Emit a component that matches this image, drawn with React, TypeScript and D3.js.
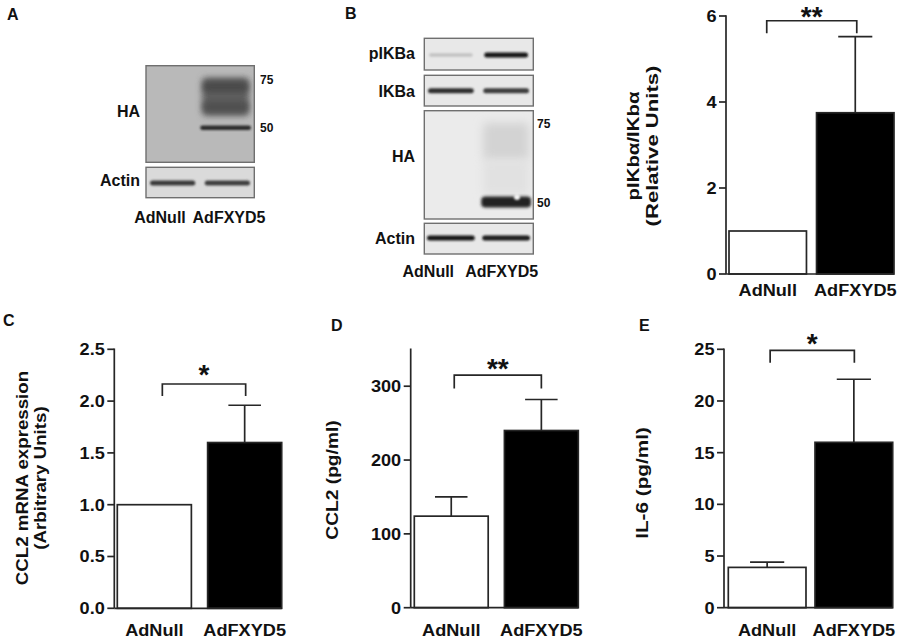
import React from "react";
import * as d3 from "d3";

// ---------- data ----------
const categories = ["AdNull", "AdFXYD5"];
const barFills = ["#ffffff", "#000000"];

const pIkbMean = [1.0, 3.75];
const pIkbSem = [0, 1.77];
const pIkbTicks = [0, 2, 4, 6];
const pIkbBracket = [5.89, 5.6];
const pIkbStars = "**";

const ccl2MrnaMean = [1.0, 1.6];
const ccl2MrnaSem = [0, 0.36];
const ccl2MrnaTicks = [0, 0.5, 1.0, 1.5, 2.0, 2.5];
const ccl2MrnaBracket = [2.165, 2.05];
const ccl2MrnaStars = "*";

const ccl2ProtMean = [124, 240];
const ccl2ProtSem = [26, 42];
const ccl2ProtTicks = [0, 100, 200, 300];
const ccl2ProtBracket = [315, 297];
const ccl2ProtStars = "**";

const il6Mean = [3.9, 16.0];
const il6Sem = [0.5, 6.1];
const il6Ticks = [0, 5, 10, 15, 20, 25];
const il6Bracket = [24.9, 23.7];
const il6Stars = "*";

// blot band descriptors: lane, y (relative to box top), height, tone, blur
const blotA_HA = [
  { lane: 1, y: 31, h: 38, color: "#606060", blur: 3, inset: 1 },
  { lane: 1, y: 21, h: 11, color: "#4a4a4a", blur: 3, inset: 2 },
  { lane: 1, y: 41, h: 11, color: "#505050", blur: 3, inset: 2 },
  { lane: 1, y: 62, h: 4.5, color: "#2c2c2c", blur: 1, inset: -1 },
];
const blotA_Actin = [
  { lane: 0, y: 15.7, h: 5, color: "#3a3a3a", blur: 1, inset: 2 },
  { lane: 1, y: 15.7, h: 5, color: "#404040", blur: 1, inset: 2 },
];
const blotB_pIKBa = [
  { lane: 0, y: 16.7, h: 3.5, color: "#c2c2c2", blur: 1, inset: 3 },
  { lane: 1, y: 16.7, h: 5, color: "#151515", blur: 1, inset: 3 },
];
const blotB_IKBa = [
  { lane: 0, y: 15.4, h: 5, color: "#2e2e2e", blur: 1, inset: 2 },
  { lane: 1, y: 15.4, h: 5, color: "#3c3c3c", blur: 1, inset: 2 },
];
const blotB_HA = [
  { lane: 1, y: 31, h: 38, color: "#d3d3d3", blur: 4, inset: 2 },
  { lane: 1, y: 67, h: 35, color: "#e1e1e1", blur: 4, inset: 2 },
  { lane: 1, y: 91.3, h: 11, color: "#202020", blur: 2, inset: 0 },
];
const blotB_Actin = [
  { lane: 0, y: 14.7, h: 5, color: "#151515", blur: 1, inset: 1 },
  { lane: 1, y: 14.7, h: 5, color: "#1c1c1c", blur: 1, inset: 1 },
];

// ---------- helpers ----------
const FONT = "'Liberation Sans', Arial, Helvetica, sans-serif";
const INK = "#111";
const LINE = "#262626";

function T({ x, y, size = 16.5, sx = 1.1, anchor = "middle", rot = false, children }: any) {
  return (
    <text
      transform={`translate(${x},${y})${rot ? " rotate(-90)" : ""} scale(${sx},1)`}
      fontSize={size}
      fontWeight="bold"
      fontFamily={FONT}
      textAnchor={anchor}
      fill={INK}
    >
      {children}
    </text>
  );
}

function BarPanel(p: any) {
  const y = d3.scaleLinear().domain(p.domain).range([p.yBottom, p.yTop]);
  const x = d3.scaleBand().domain(categories).range(p.barRange).paddingInner(p.pad).paddingOuter(0);
  const bw = x.bandwidth();
  const cx = (c: string) => (x(c) as number) + bw / 2;
  const tickLen = 7;
  const capW = bw * 0.44;
  const bx0 = cx(categories[0]) + p.bracketDx[0];
  const bx1 = cx(categories[1]) + p.bracketDx[1];
  const by = y(p.bracket[0]);
  const byLeg = y(p.bracket[1]);
  const sw = 1.7;
  return (
    <g>
      {categories.map((c, i) => (
        <rect
          key={c}
          x={x(c)}
          y={y(p.means[i])}
          width={bw}
          height={y(0) - y(p.means[i])}
          fill={barFills[i]}
          stroke={LINE}
          strokeWidth={sw}
        />
      ))}
      {categories.map((c, i) =>
        p.sems[i] > 0 ? (
          <g key={c} stroke={LINE} strokeWidth={sw}>
            <line x1={cx(c)} x2={cx(c)} y1={y(p.means[i])} y2={y(p.means[i] + p.sems[i])} />
            <line
              x1={cx(c) - capW / 2}
              x2={cx(c) + capW / 2}
              y1={y(p.means[i] + p.sems[i])}
              y2={y(p.means[i] + p.sems[i])}
            />
          </g>
        ) : null
      )}
      <g stroke={LINE} strokeWidth={sw}>
        <line x1={p.axisX} x2={p.axisX} y1={y(p.domain[1]) - 0.8} y2={y(0)} />
        <line x1={p.axisX} x2={p.barRange[1]} y1={y(0)} y2={y(0)} />
        {p.ticks.map((t: number) => (
          <line key={t} x1={p.axisX - tickLen} x2={p.axisX} y1={y(t)} y2={y(t)} />
        ))}
      </g>
      {p.ticks.map((t: number) => (
        <T key={t} x={p.axisX - tickLen - 2.5} y={y(t) + 5.9} anchor="end">
          {p.fmt(t)}
        </T>
      ))}
      {categories.map((c) => (
        <T key={c} x={cx(c)} y={p.xLabelY}>
          {c}
        </T>
      ))}
      <path
        d={`M${bx0},${byLeg}V${by}H${bx1}V${byLeg}`}
        fill="none"
        stroke={LINE}
        strokeWidth={sw}
      />
      <text
        x={(bx0 + bx1) / 2}
        y={by - p.starGap + 15.5}
        fontSize={28}
        fontWeight="bold"
        fontFamily={FONT}
        textAnchor="middle"
        fill={INK}
      >
        {p.stars}
      </text>
      {p.yLabel.map((s: string, k: number) => (
        <T key={k} rot x={p.yLabelX[k]} y={p.yLabelY} size={17} sx={p.yLabelSx[k]}>
          {s}
        </T>
      ))}
    </g>
  );
}

function Blot({ id, x, y, w, h, bg, bands, lanes }: any) {
  const lx = d3.scaleBand().domain(categories).range(lanes).paddingInner(0.1);
  return (
    <g>
      <clipPath id={id}>
        <rect x={x} y={y} width={w} height={h} />
      </clipPath>
      <rect x={x} y={y} width={w} height={h} fill={bg} />
      <g clipPath={`url(#${id})`}>
        {bands.map((b: any, i: number) => (
          <rect
            key={i}
            x={(lx(categories[b.lane]) as number) + b.inset}
            y={y + b.y - b.h / 2}
            width={lx.bandwidth() - 2 * b.inset}
            height={b.h}
            rx={Math.min(b.h / 2, 4)}
            fill={b.color}
            filter={`url(#blur${b.blur})`}
          />
        ))}
      </g>
      <rect x={x} y={y} width={w} height={h} fill="none" stroke="#6f6f6f" strokeWidth={1.4} />
    </g>
  );
}

function BT({ x, y, anchor = "end", size = 16, children }: any) {
  return (
    <text x={x} y={y} fontSize={size} fontWeight="bold" fontFamily={FONT} textAnchor={anchor} fill={INK}>
      {children}
    </text>
  );
}

export default function App() {
  const f1 = d3.format(".1f");
  const f0 = d3.format("d");
  const blurs = [
    { k: 1, s: 0.8 },
    { k: 2, s: 1.6 },
    { k: 3, s: 3 },
    { k: 4, s: 5 },
  ];
  return (
    <svg
      width={903}
      height={639}
      style={{ position: "absolute", left: 0, top: 0, display: "block" }}
      xmlns="http://www.w3.org/2000/svg"
    >
      <defs>
        {blurs.map((b) => (
          <filter key={b.k} id={`blur${b.k}`} filterUnits="userSpaceOnUse" x={0} y={0} width={903} height={639}>
            <feGaussianBlur stdDeviation={b.s} />
          </filter>
        ))}
      </defs>
      <rect x={0} y={0} width={903} height={639} fill="#fff" />

      {/* Panel letters */}
      <BT x={7} y={20} anchor="start">A</BT>
      <BT x={345} y={19} anchor="start">B</BT>
      <BT x={3} y={326} anchor="start">C</BT>
      <BT x={331} y={331} anchor="start">D</BT>
      <BT x={639} y={331} anchor="start">E</BT>

      {/* Panel A blots */}
      <Blot id="a1" x={146} y={65.7} w={108.3} h={96.6} bg="#b9b9b9" bands={blotA_HA} lanes={[147, 250]} />
      <Blot id="a2" x={146} y={167.3} w={108.3} h={30.4} bg="#dadada" bands={blotA_Actin} lanes={[148, 252]} />
      <BT x={140} y={116.7}>HA</BT>
      <BT x={140} y={185.7}>Actin</BT>
      <BT x={260} y={84.3} anchor="start" size={12}>75</BT>
      <BT x={260} y={132} anchor="start" size={12}>50</BT>
      <BT x={160} y={222.7} anchor="middle">AdNull</BT>
      <BT x={229} y={222.7} anchor="middle">AdFXYD5</BT>

      {/* Panel B blots */}
      <Blot id="b1" x={424.3} y={38.3} w={109} h={31.7} bg="#e8e8e8" bands={blotB_pIKBa} lanes={[426, 531]} />
      <Blot id="b2" x={424.3} y={75.3} w={109} h={30.7} bg="#e8e8e8" bands={blotB_IKBa} lanes={[426, 531]} />
      <Blot id="b3" x={424.3} y={110.7} w={109} h={108.3} bg="#ebebeb" bands={blotB_HA} lanes={[426, 531]} />
      <circle cx={517} cy={197} r={3} fill="#f4f4f4" filter="url(#blur1)" />
      <Blot id="b4" x={424.3} y={223.3} w={109} h={30.7} bg="#e8e8e8" bands={blotB_Actin} lanes={[426, 531]} />
      <BT x={415} y={59}>pIKBa</BT>
      <BT x={415} y={97.4}>IKBa</BT>
      <BT x={415} y={161.7}>HA</BT>
      <BT x={415} y={244}>Actin</BT>
      <BT x={537} y={128.3} anchor="start" size={12}>75</BT>
      <BT x={537} y={207.3} anchor="start" size={12}>50</BT>
      <BT x={428.3} y={277.4} anchor="middle">AdNull</BT>
      <BT x={501.7} y={277.4} anchor="middle">AdFXYD5</BT>

      {/* Panel B quantification */}
      <BarPanel
        means={pIkbMean}
        sems={pIkbSem}
        ticks={pIkbTicks}
        fmt={f0}
        domain={[0, 6]}
        axisX={726}
        yTop={16}
        yBottom={274}
        barRange={[729, 894]}
        pad={0.115}
        bracket={pIkbBracket}
        bracketDx={[-1, 1.5]}
        stars={pIkbStars}
        starGap={10.7}
        xLabelY={296}
        yLabel={["pIKbα/IKbα", "(Relative Units)"]}
        yLabelX={[639, 657.5]}
        yLabelY={146}
        yLabelSx={[1.2, 1.3]}
      />

      {/* Panel C */}
      <BarPanel
        means={ccl2MrnaMean}
        sems={ccl2MrnaSem}
        ticks={ccl2MrnaTicks}
        fmt={f1}
        domain={[0, 2.5]}
        axisX={114.3}
        yTop={349.3}
        yBottom={608.3}
        barRange={[117.3, 281.7]}
        pad={0.18}
        bracket={ccl2MrnaBracket}
        bracketDx={[8, 1]}
        stars={ccl2MrnaStars}
        starGap={16}
        xLabelY={636}
        yLabel={["CCL2 mRNA expression", "(Arbitrary Units)"]}
        yLabelX={[27.5, 45.5]}
        yLabelY={478}
        yLabelSx={[1.1, 1.1]}
      />

      {/* Panel D */}
      <BarPanel
        means={ccl2ProtMean}
        sems={ccl2ProtSem}
        ticks={ccl2ProtTicks}
        fmt={f0}
        domain={[0, 350]}
        axisX={410.7}
        yTop={349.3}
        yBottom={607.7}
        barRange={[414.3, 578.3]}
        pad={0.18}
        bracket={ccl2ProtBracket}
        bracketDx={[3, 0]}
        stars={ccl2ProtStars}
        starGap={12.7}
        xLabelY={636}
        yLabel={["CCL2 (pg/ml)"]}
        yLabelX={[337.5]}
        yLabelY={480}
        yLabelSx={[1.13]}
      />

      {/* Panel E */}
      <BarPanel
        means={il6Mean}
        sems={il6Sem}
        ticks={il6Ticks}
        fmt={f0}
        domain={[0, 25]}
        axisX={724}
        yTop={349.3}
        yBottom={607.7}
        barRange={[728.3, 892.7]}
        pad={0.104}
        bracket={il6Bracket}
        bracketDx={[3, 0.5]}
        stars={il6Stars}
        starGap={13}
        xLabelY={636}
        yLabel={["IL-6 (pg/ml)"]}
        yLabelX={[647.5]}
        yLabelY={483}
        yLabelSx={[1.22]}
      />
    </svg>
  );
}
